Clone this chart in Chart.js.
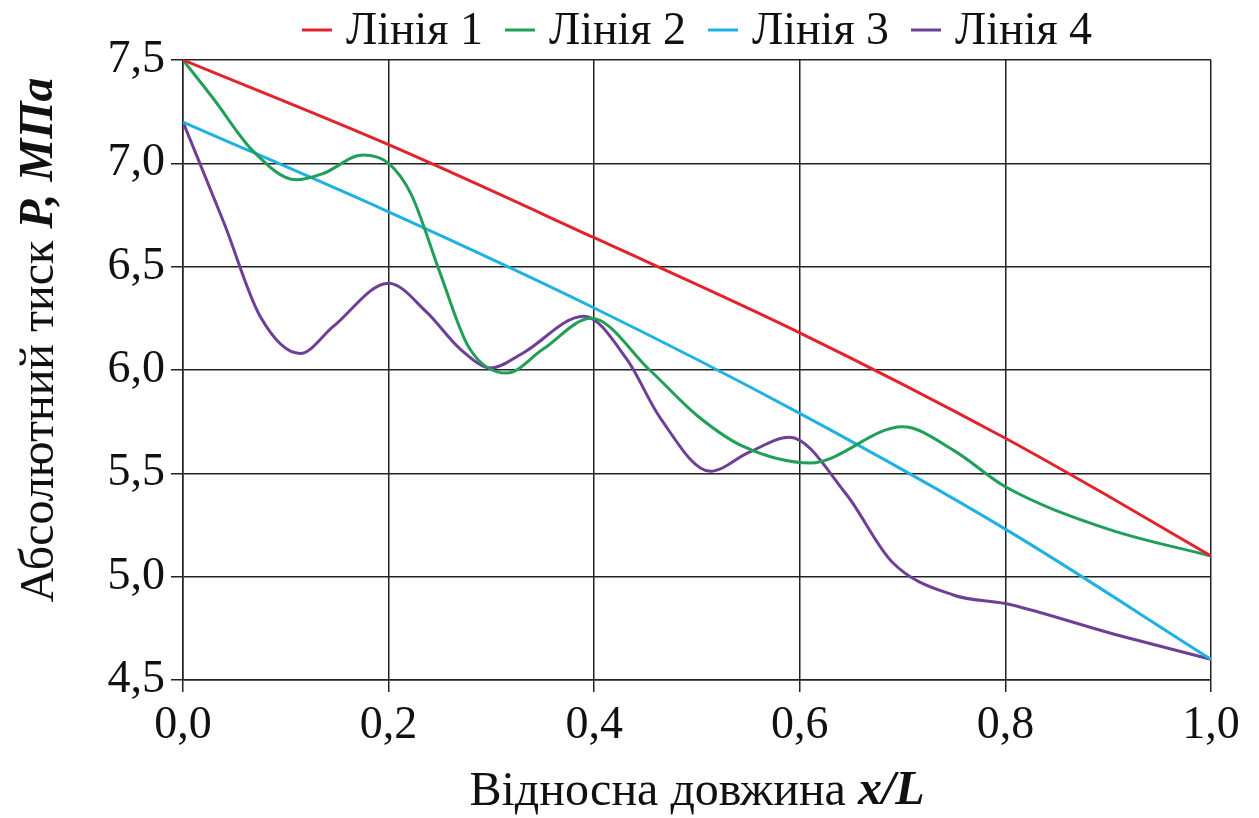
<!DOCTYPE html>
<html>
<head>
<meta charset="utf-8">
<script src="https://cdn.jsdelivr.net/npm/chart.js@4.4.0/dist/chart.umd.min.js"></script>
<style>
  html, body { margin: 0; padding: 0; background: #fff; }
  #wrap { width: 1259px; height: 818px; }
</style>
</head>
<body>
<div id="wrap"><canvas id="chart" width="1259" height="818"></canvas></div>
<script>
"use strict";

// series data
const seriesNames = ['Лінія 1', 'Лінія 2', 'Лінія 3', 'Лінія 4'];

const line1X = [0, 0.2, 0.4, 0.6, 0.8, 0.9, 1.0];
const line1Y = [7.5, 7.09, 6.64, 6.18, 5.67, 5.39, 5.1];

const line2X = [0, 0.03, 0.068, 0.11, 0.136, 0.175, 0.2, 0.222, 0.25, 0.278, 0.315, 0.35, 0.397, 0.454, 0.5, 0.545, 0.61, 0.7, 0.75, 0.8, 0.9, 1.0];
const line2Y = [7.5, 7.31, 7.06, 6.92, 6.95, 7.04, 7.0, 6.85, 6.47, 6.11, 5.985, 6.1, 6.25, 6.0, 5.78, 5.63, 5.55, 5.725, 5.61, 5.435, 5.23, 5.1];

const line3X = [0, 0.2, 0.4, 0.6, 0.8, 1.0];
const line3Y = [7.2, 6.765, 6.3, 5.79, 5.23, 4.6];

const line4X = [0, 0.04, 0.075, 0.114, 0.146, 0.2, 0.237, 0.27, 0.3, 0.33, 0.39, 0.432, 0.464, 0.513, 0.55, 0.59, 0.645, 0.69, 0.75, 0.8, 0.9, 1.0];
const line4Y = [7.2, 6.71, 6.26, 6.08, 6.21, 6.42, 6.28, 6.1, 6.01, 6.08, 6.26, 6.05, 5.77, 5.51, 5.6, 5.675, 5.4, 5.07, 4.91, 4.87, 4.73, 4.6];

const xTicks = [0, 0.2, 0.4, 0.6, 0.8, 1.0];
const yTicks = [4.5, 5.0, 5.5, 6.0, 6.5, 7.0, 7.5];

const colors = ['#e3232b', '#1f9f57', '#1fb1e4', '#6e3f97'];

const serif = "'Liberation Serif', 'Times New Roman', serif";

const toPoints = (xs, ys) => xs.map((x, i) => ({x: x, y: ys[i]}));
const allX = [line1X, line2X, line3X, line4X];
const allY = [line1Y, line2Y, line3Y, line4Y];

const datasets = seriesNames.map((name, i) => ({
    label: name,
    data: toPoints(allX[i], allY[i]),
    borderColor: colors[i],
    backgroundColor: colors[i],
    borderWidth: 3,
    pointRadius: 0,
    fill: false,
    cubicInterpolationMode: 'monotone'
}));

const comma = v => v.toFixed(1).replace('.', ',');

// legend row and axis titles (titles mix normal and bold italic)
const extraText = {
    id: 'extraText',
    afterDraw(chart) {
        const ctx = chart.ctx;
        const area = chart.chartArea;
        const drawMixed = (parts, cx, cy) => {
            let total = 0;
            parts.forEach(p => { ctx.font = p.font; total += ctx.measureText(p.text).width; });
            let x = cx - total / 2;
            parts.forEach(p => {
                ctx.font = p.font;
                ctx.fillText(p.text, x, cy);
                x += ctx.measureText(p.text).width;
            });
        };
        ctx.save();
        ctx.fillStyle = '#111';
        ctx.textBaseline = 'middle';
        ctx.textAlign = 'left';

        // legend
        const legendFont = '46px ' + serif;
        const mark = 30, gap = 14, spacing = 22, legendY = 30;
        ctx.font = legendFont;
        const widths = chart.data.datasets.map(d => ctx.measureText(d.label).width);
        const total = widths.reduce((s, w) => s + mark + gap + w, 0) + spacing * (widths.length - 1);
        let lx = (area.left + area.right) / 2 - total / 2;
        chart.data.datasets.forEach((d, i) => {
            ctx.strokeStyle = d.borderColor;
            ctx.lineWidth = 3;
            ctx.beginPath();
            ctx.moveTo(lx, legendY);
            ctx.lineTo(lx + mark, legendY);
            ctx.stroke();
            ctx.fillText(d.label, lx + mark + gap, legendY + 2);
            lx += mark + gap + widths[i] + spacing;
        });

        drawMixed([
            {text: 'Відносна довжина ', font: '48px ' + serif},
            {text: 'x/L', font: 'italic bold 48px ' + serif}
        ], (area.left + area.right) / 2, 792);
        ctx.translate(40, 340);
        ctx.rotate(-Math.PI / 2);
        drawMixed([
            {text: 'Абсолютний тиск ', font: '48px ' + serif},
            {text: 'P, МПа', font: 'italic bold 48px ' + serif}
        ], 0, 0);
        ctx.restore();
    }
};

new Chart(document.getElementById('chart').getContext('2d'), {
    type: 'line',
    data: {datasets: datasets},
    plugins: [extraText],
    options: {
        responsive: false,
        animation: false,
        layout: {padding: {top: 60, right: 48, left: 0, bottom: 0}},
        plugins: {
            legend: {display: false},
            tooltip: {enabled: false}
        },
        scales: {
            x: {
                type: 'linear',
                min: 0,
                max: 1,
                afterBuildTicks: axis => { axis.ticks = xTicks.map(v => ({value: v})); },
                afterFit: axis => { axis.height = 138; },
                ticks: {
                    color: '#111',
                    padding: 6,
                    font: {family: serif, size: 46},
                    callback: v => comma(v)
                },
                grid: {color: '#222', lineWidth: 1.5, tickLength: 12},
                border: {color: '#222', width: 1.5}
            },
            y: {
                min: 4.5,
                max: 7.5,
                afterBuildTicks: axis => { axis.ticks = yTicks.map(v => ({value: v})); },
                afterFit: axis => { axis.width = 183; },
                ticks: {
                    color: '#111',
                    padding: 6,
                    font: {family: serif, size: 46},
                    callback: v => comma(v)
                },
                grid: {color: '#222', lineWidth: 1.5, tickLength: 12},
                border: {color: '#222', width: 1.5}
            }
        }
    }
});
</script>
</body>
</html>
